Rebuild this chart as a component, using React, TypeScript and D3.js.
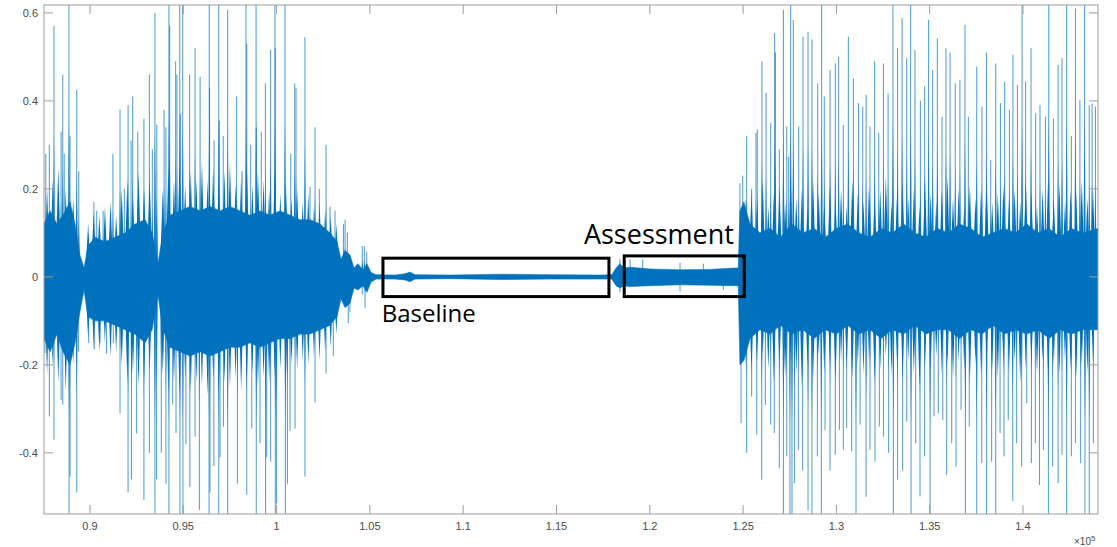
import * as d3 from 'd3'

// axis ranges are in units of 1e5 samples
const X_DOMAIN: [number, number] = [0.87535, 1.44019]
const Y_DOMAIN: [number, number] = [-0.539, 0.618]
const X_TICKS = [0.9, 0.95, 1, 1.05, 1.1, 1.15, 1.2, 1.25, 1.3, 1.35, 1.4]
const X_TICK_LABELS = ['0.9', '0.95', '1', '1.05', '1.1', '1.15', '1.2', '1.25', '1.3', '1.35', '1.4']
const Y_TICKS = [-0.4, -0.2, 0, 0.2, 0.4, 0.6]
const Y_TICK_LABELS = ['-0.4', '-0.2', '0', '0.2', '0.4', '0.6']

// dense part of the signal (envelope)
const coreX = [
  0.8753, 0.8786, 0.8823, 0.8855, 0.8893, 0.892, 0.8946, 0.8968, 0.8989, 0.9027, 0.908, 0.9134,
  0.9188, 0.9241, 0.9295, 0.9333, 0.9364, 0.9391, 0.9429, 0.9482, 0.9536, 0.959, 0.9643, 0.9697,
  0.975, 0.9804, 0.9857, 0.9911, 0.9965, 1.0018, 1.0072, 1.0126, 1.0179, 1.0233, 1.0286, 1.0324,
  1.0345, 1.0367, 1.0393, 1.0415, 1.0436, 1.0463, 1.0484, 1.0506, 1.0533, 1.0635, 1.0688, 1.0715,
  1.0742, 1.0929, 1.1197, 1.1465, 1.1733, 1.1797, 1.1819, 1.184, 1.1861, 1.1893, 1.2001, 1.2161,
  1.2322, 1.2456, 1.2474, 1.2483, 1.2504, 1.2537, 1.259, 1.2644, 1.27, 1.276, 1.282, 1.288, 1.294,
  1.3, 1.306, 1.312, 1.318, 1.324, 1.33, 1.336, 1.342, 1.348, 1.354, 1.36, 1.366, 1.372, 1.378,
  1.384, 1.39, 1.396, 1.402, 1.408, 1.414, 1.42, 1.426, 1.432, 1.4402,
]
const coreHi = [
  0.12, 0.15, 0.12, 0.14, 0.17, 0.12, 0.05, 0.02, 0.07, 0.09, 0.08, 0.09, 0.1, 0.12, 0.13, 0.1,
  0.03, 0.1, 0.14, 0.15, 0.16, 0.15, 0.16, 0.15, 0.16, 0.15, 0.14, 0.15, 0.14, 0.15, 0.14, 0.13,
  0.13, 0.12, 0.1, 0.08, 0.04, 0.06, 0.05, 0.02, 0.03, 0.015, 0.03, 0.01, 0.005, 0.004, 0.007,
  0.011, 0.005, 0.004, 0.006, 0.005, 0.004, 0.005, 0.02, 0.03, 0.02, 0.022, 0.018, 0.016, 0.017,
  0.02, 0.02, 0.15, 0.17, 0.12, 0.1, 0.11, 0.09, 0.12, 0.1, 0.11, 0.09, 0.11, 0.12, 0.1, 0.09,
  0.11, 0.1, 0.12, 0.1, 0.09, 0.11, 0.1, 0.12, 0.11, 0.09, 0.1, 0.11, 0.1, 0.12, 0.1, 0.11, 0.09,
  0.11, 0.1, 0.11,
]
const coreLo = [
  -0.14, -0.17, -0.13, -0.17, -0.2, -0.15, -0.08, -0.03, -0.09, -0.1, -0.1, -0.11, -0.12, -0.13,
  -0.15, -0.12, -0.04, -0.12, -0.16, -0.17, -0.18, -0.17, -0.18, -0.17, -0.16, -0.16, -0.15, -0.16,
  -0.15, -0.14, -0.14, -0.13, -0.13, -0.12, -0.11, -0.09, -0.05, -0.07, -0.06, -0.025, -0.03,
  -0.02, -0.035, -0.012, -0.005, -0.005, -0.007, -0.011, -0.005, -0.004, -0.006, -0.005, -0.005,
  -0.005, -0.02, -0.025, -0.02, -0.022, -0.02, -0.018, -0.019, -0.02, -0.02, -0.2, -0.19, -0.14,
  -0.12, -0.13, -0.11, -0.13, -0.12, -0.14, -0.12, -0.13, -0.11, -0.13, -0.12, -0.14, -0.12, -0.13,
  -0.11, -0.13, -0.12, -0.12, -0.14, -0.12, -0.13, -0.11, -0.13, -0.12, -0.13, -0.12, -0.14, -0.12,
  -0.13, -0.12, -0.12,
]

// medium bursts inside the loud parts [x, high, low]
const midLeft: [number, number, number][] = [
  [0.877, 0.2, -0.22], [0.88, 0.22, -0.2], [0.883, 0.25, -0.24], [0.887, 0.2, -0.26],
  [0.891, 0.18, -0.2], [0.899, 0.12, -0.14], [0.902, 0.15, -0.16], [0.905, 0.14, -0.17],
  [0.908, 0.16, -0.15], [0.911, 0.17, -0.18], [0.914, 0.14, -0.17], [0.917, 0.2, -0.2],
  [0.92, 0.22, -0.24], [0.923, 0.18, -0.22], [0.926, 0.24, -0.25], [0.929, 0.2, -0.23],
  [0.932, 0.22, -0.21], [0.939, 0.2, -0.22], [0.942, 0.25, -0.26], [0.945, 0.22, -0.24],
  [0.948, 0.26, -0.27], [0.951, 0.21, -0.23], [0.954, 0.24, -0.26], [0.957, 0.22, -0.24],
  [0.96, 0.26, -0.25], [0.963, 0.22, -0.27], [0.966, 0.25, -0.23], [0.969, 0.21, -0.26],
  [0.972, 0.24, -0.24], [0.975, 0.26, -0.25], [0.978, 0.21, -0.23], [0.981, 0.23, -0.26],
  [0.984, 0.26, -0.24], [0.987, 0.21, -0.22], [0.99, 0.24, -0.25], [0.993, 0.22, -0.23],
  [0.996, 0.2, -0.24], [0.999, 0.24, -0.22], [1.002, 0.19, -0.21], [1.005, 0.21, -0.23],
  [1.008, 0.18, -0.2], [1.011, 0.2, -0.21], [1.014, 0.17, -0.19], [1.017, 0.19, -0.2],
  [1.02, 0.16, -0.18], [1.023, 0.17, -0.19], [1.026, 0.15, -0.17], [1.029, 0.14, -0.16],
  [1.032, 0.12, -0.13],
]
const midRight: [number, number, number][] = [
  [1.2515, 0.18, -0.2], [1.2545, 0.2, -0.22], [1.2575, 0.17, -0.19], [1.2605, 0.22, -0.18],
  [1.2635, 0.16, -0.21], [1.2665, 0.19, -0.24], [1.2695, 0.21, -0.2], [1.2725, 0.17, -0.23],
  [1.2755, 0.23, -0.19], [1.2785, 0.18, -0.22], [1.2815, 0.2, -0.25], [1.2845, 0.16, -0.2],
  [1.2875, 0.22, -0.23], [1.2905, 0.19, -0.18], [1.2935, 0.17, -0.22], [1.2965, 0.21, -0.2],
  [1.2995, 0.18, -0.24], [1.3025, 0.2, -0.19], [1.3055, 0.16, -0.21], [1.3085, 0.22, -0.23],
  [1.3115, 0.19, -0.2], [1.3145, 0.17, -0.22], [1.3175, 0.21, -0.19], [1.3205, 0.18, -0.24],
  [1.3235, 0.2, -0.21], [1.3265, 0.23, -0.18], [1.3295, 0.17, -0.22], [1.3325, 0.19, -0.2],
  [1.3355, 0.21, -0.23], [1.3385, 0.18, -0.19], [1.3415, 0.2, -0.22], [1.3445, 0.16, -0.25],
  [1.3475, 0.22, -0.2], [1.3505, 0.19, -0.21], [1.3535, 0.17, -0.18], [1.3565, 0.2, -0.22],
  [1.3595, 0.23, -0.2], [1.3625, 0.18, -0.23], [1.3655, 0.2, -0.19], [1.3685, 0.16, -0.21],
  [1.3715, 0.21, -0.24], [1.3745, 0.18, -0.2], [1.3775, 0.2, -0.22], [1.3805, 0.22, -0.19],
  [1.3835, 0.17, -0.21], [1.3865, 0.19, -0.23], [1.3895, 0.21, -0.2], [1.3925, 0.18, -0.22],
  [1.3955, 0.2, -0.19], [1.3985, 0.17, -0.24], [1.4015, 0.22, -0.21], [1.4045, 0.19, -0.2],
  [1.4075, 0.16, -0.22], [1.4105, 0.2, -0.19], [1.4135, 0.23, -0.23], [1.4165, 0.18, -0.2],
  [1.4195, 0.21, -0.22], [1.4225, 0.17, -0.19], [1.4255, 0.2, -0.21], [1.4285, 0.19, -0.23],
  [1.4315, 0.22, -0.2], [1.4345, 0.18, -0.22], [1.4375, 0.2, -0.19],
]

// isolated peaks [x, value]
const peaksUp: [number, number][] = [
  [0.8763, 0.28], [0.8782, 0.3], [0.8807, 0.57], [0.8845, 0.33], [0.8854, 0.46], [0.8862, 0.28],
  [0.8887, 0.65], [0.8893, 0.32], [0.8929, 0.425], [0.894, 0.24], [0.9021, 0.17], [0.9036, 0.15],
  [0.907, 0.15], [0.9123, 0.28], [0.9161, 0.38], [0.9184, 0.2], [0.9204, 0.39], [0.922, 0.31],
  [0.9229, 0.41], [0.9256, 0.33], [0.9289, 0.36], [0.9318, 0.46], [0.9334, 0.29], [0.9348, 0.6],
  [0.9358, 0.346], [0.9397, 0.38], [0.9407, 0.34], [0.9423, 0.65], [0.9427, 0.57], [0.9459, 0.49],
  [0.9466, 0.46], [0.9481, 0.65], [0.9484, 0.37], [0.9497, 0.65], [0.9534, 0.46], [0.9563, 0.52],
  [0.959, 0.455], [0.9639, 0.65], [0.9641, 0.43], [0.9665, 0.31], [0.969, 0.65], [0.9693, 0.355],
  [0.9714, 0.32], [0.9738, 0.607], [0.9786, 0.41], [0.9815, 0.24], [0.9836, 0.65], [0.984, 0.53],
  [0.9861, 0.3], [0.989, 0.65], [0.9891, 0.34], [0.9918, 0.33], [0.994, 0.44], [0.9968, 0.516],
  [0.9991, 0.65], [0.9993, 0.52], [1.0045, 0.65], [1.0076, 0.28], [1.0097, 0.44], [1.0104, 0.43],
  [1.0152, 0.545], [1.0179, 0.205], [1.0206, 0.34], [1.0229, 0.2], [1.0265, 0.3], [1.0286, 0.16],
  [1.0313, 0.15], [1.0358, 0.12], [1.0367, 0.13], [1.0379, 0.1], [1.0459, 0.07], [1.047, 0.07],
  [1.0483, 0.057], [1.184, 0.04], [1.1894, 0.04], [1.1962, 0.04], [1.2162, 0.032], [1.2287, 0.03],
  [1.2483, 0.213], [1.2498, 0.23], [1.2519, 0.32], [1.2546, 0.2], [1.2569, 0.327], [1.2576, 0.335],
  [1.2601, 0.49], [1.2623, 0.418], [1.2648, 0.35], [1.2669, 0.554], [1.2673, 0.51], [1.2694, 0.29],
  [1.2716, 0.607], [1.2734, 0.342], [1.2744, 0.273], [1.2755, 0.65], [1.2769, 0.584], [1.2798, 0.342],
  [1.2821, 0.546], [1.2848, 0.557], [1.2869, 0.54], [1.29, 0.44], [1.2921, 0.65], [1.2935, 0.41],
  [1.2966, 0.47], [1.2994, 0.485], [1.3012, 0.5], [1.3037, 0.345], [1.3064, 0.546], [1.3091, 0.451],
  [1.3118, 0.395], [1.3141, 0.387], [1.3159, 0.414], [1.318, 0.342], [1.3205, 0.49], [1.3227, 0.327],
  [1.3252, 0.485], [1.3277, 0.417], [1.3303, 0.65], [1.3328, 0.52], [1.3352, 0.588], [1.3377, 0.497],
  [1.3398, 0.65], [1.3421, 0.516], [1.345, 0.4], [1.3473, 0.433], [1.3494, 0.584], [1.3516, 0.47],
  [1.3541, 0.542], [1.3566, 0.364], [1.3587, 0.52], [1.3609, 0.51], [1.3637, 0.44], [1.3662, 0.448],
  [1.3689, 0.573], [1.3707, 0.364], [1.3752, 0.478], [1.378, 0.387], [1.3804, 0.51], [1.3827, 0.266],
  [1.3854, 0.485], [1.3879, 0.395], [1.3902, 0.443], [1.3927, 0.38], [1.3946, 0.505], [1.397, 0.436],
  [1.3995, 0.65], [1.4014, 0.444], [1.4043, 0.52], [1.4068, 0.372], [1.4091, 0.39], [1.412, 0.364],
  [1.4138, 0.65], [1.4163, 0.36], [1.4188, 0.482], [1.4209, 0.497], [1.4234, 0.65], [1.4259, 0.32],
  [1.4281, 0.61], [1.4305, 0.402], [1.433, 0.65], [1.4355, 0.39], [1.437, 0.394], [1.4388, 0.387],
]
const peaksDown: [number, number][] = [
  [0.8759, -0.173], [0.8782, -0.317], [0.8807, -0.37], [0.8845, -0.28], [0.8854, -0.29],
  [0.8888, -0.6], [0.8893, -0.454], [0.8929, -0.49], [0.8939, -0.17], [0.8993, -0.15],
  [0.9023, -0.165], [0.9054, -0.15], [0.9089, -0.175], [0.9125, -0.15], [0.9161, -0.31],
  [0.9204, -0.49], [0.9222, -0.46], [0.925, -0.356], [0.9289, -0.507], [0.9318, -0.4],
  [0.9348, -0.6], [0.9357, -0.46], [0.9382, -0.4], [0.9407, -0.47], [0.9423, -0.6],
  [0.9443, -0.29], [0.9461, -0.355], [0.9482, -0.6], [0.9498, -0.6], [0.9514, -0.38],
  [0.9535, -0.477], [0.9563, -0.363], [0.9586, -0.53], [0.9638, -0.6], [0.9643, -0.49],
  [0.9664, -0.43], [0.969, -0.6], [0.9697, -0.41], [0.9715, -0.34], [0.9738, -0.6],
  [0.979, -0.47], [0.984, -0.495], [0.9867, -0.345], [0.9891, -0.6], [0.9911, -0.378],
  [0.9941, -0.6], [0.9947, -0.41], [0.9968, -0.42], [0.9993, -0.6], [1.0, -0.515],
  [1.0047, -0.6], [1.0058, -0.47], [1.0072, -0.35], [1.0099, -0.345], [1.0152, -0.454],
  [1.0206, -0.285], [1.0265, -0.22], [1.0304, -0.18], [1.0384, -0.105], [1.0393, -0.08],
  [1.0459, -0.04], [1.0474, -0.07], [1.184, -0.035], [1.2162, -0.033], [1.2394, -0.03],
  [1.2489, -0.332], [1.2519, -0.4], [1.2546, -0.272], [1.2573, -0.359], [1.26, -0.461],
  [1.2619, -0.291], [1.2648, -0.336], [1.2667, -0.355], [1.2694, -0.435], [1.2716, -0.6],
  [1.2734, -0.408], [1.2751, -0.6], [1.2762, -0.6], [1.2775, -0.469], [1.2796, -0.393],
  [1.2819, -0.44], [1.2848, -0.53], [1.2869, -0.6], [1.2898, -0.408], [1.2919, -0.6],
  [1.2939, -0.348], [1.2966, -0.44], [1.2994, -0.404], [1.3016, -0.348], [1.3037, -0.393],
  [1.3055, -0.344], [1.3082, -0.397], [1.3105, -0.6], [1.3127, -0.336], [1.3159, -0.5],
  [1.318, -0.393], [1.3207, -0.42], [1.323, -0.34], [1.3252, -0.363], [1.328, -0.4],
  [1.3305, -0.6], [1.3328, -0.461], [1.3355, -0.44], [1.3377, -0.329], [1.34, -0.6],
  [1.3425, -0.378], [1.3448, -0.499], [1.3473, -0.408], [1.3502, -0.6], [1.3523, -0.317],
  [1.3546, -0.31], [1.357, -0.325], [1.3591, -0.45], [1.3618, -0.378], [1.3641, -0.431],
  [1.3668, -0.302], [1.3691, -0.6], [1.3712, -0.34], [1.3752, -0.6], [1.3779, -0.423],
  [1.3805, -0.6], [1.3832, -0.42], [1.3854, -0.6], [1.3877, -0.355], [1.3898, -0.408],
  [1.3921, -0.325], [1.3945, -0.51], [1.3966, -0.378], [1.3993, -0.431], [1.402, -0.287],
  [1.4045, -0.423], [1.4066, -0.378], [1.4088, -0.473], [1.4109, -0.393], [1.4136, -0.6],
  [1.4159, -0.431], [1.4188, -0.469], [1.4209, -0.404], [1.4234, -0.6], [1.4259, -0.408],
  [1.4281, -0.378], [1.4309, -0.423], [1.4332, -0.6], [1.4355, -0.6], [1.4377, -0.378],
]

// annotation boxes [x0, x1, y0, y1] in data units
const BASELINE_BOX = [1.057, 1.1781, -0.0448, 0.0425]
const ASSESSMENT_BOX = [1.1863, 1.2506, -0.0448, 0.0477]
const BASELINE_LABEL: [number, number] = [1.0563, -0.1016]
const ASSESSMENT_LABEL: [number, number] = [1.1647, 0.075]

const W = 1117
const H = 547
const M = { top: 5, right: 19, bottom: 33, left: 44 }
const BLUE = '#0072BD'
const AXIS = '#9d9d9d'
const TEXT = '#4a4a4a'

export default function App() {
  const x = d3.scaleLinear().domain(X_DOMAIN).range([M.left, W - M.right])
  const y = d3.scaleLinear().domain(Y_DOMAIN).range([H - M.bottom, M.top])
  const [x0, x1] = x.range()
  const [yb, yt] = y.range()

  const core = coreX.map((v, i) => ({ x: v, hi: coreHi[i], lo: coreLo[i] }))
  const band = d3
    .area<{ x: number; hi: number; lo: number }>()
    .x((d) => x(d.x))
    .y0((d) => y(d.lo))
    .y1((d) => y(d.hi))(core)

  const mids = [...midLeft, ...midRight]
  // a burst drawn as a narrow diamond: wide at the zero line, sharp at its tips
  const burst = (px: number, hi: number, lo: number, half: number) => {
    const cx = x(px)
    return `M${cx - half},${y(0)}L${cx},${y(hi)}L${cx + half},${y(0)}L${cx},${y(lo)}Z`
  }
  const spike = (px: number, v: number, half: number) => {
    const cx = x(px)
    return `M${cx - half},${y(0)}L${cx},${y(v)}L${cx + half},${y(0)}Z`
  }

  const box = (b: number[]) => ({
    x: x(b[0]),
    y: y(b[3]),
    width: x(b[1]) - x(b[0]),
    height: y(b[2]) - y(b[3]),
  })
  const bb = box(BASELINE_BOX)
  const ab = box(ASSESSMENT_BOX)
  const tick = 9

  return (
    <svg
      width={W}
      height={H}
      style={{ position: 'absolute', left: 0, top: 0, background: '#fff' }}
      fontFamily="'Liberation Sans', Arial, sans-serif"
    >
      <defs>
        <clipPath id="plot">
          <rect x={x0} y={yt} width={x1 - x0} height={yb - yt} />
        </clipPath>
      </defs>

      <g clipPath="url(#plot)">
        {peaksUp.map(([px, v], i) => (
          <line key={'u' + i} x1={x(px)} x2={x(px)} y1={y(0)} y2={y(v)} stroke={BLUE} strokeWidth={1} opacity={0.7} />
        ))}
        {peaksDown.map(([px, v], i) => (
          <line key={'d' + i} x1={x(px)} x2={x(px)} y1={y(0)} y2={y(v)} stroke={BLUE} strokeWidth={1} opacity={0.7} />
        ))}
        {[...peaksUp, ...peaksDown].map(([px, v], i) => (
          <path key={'s' + i} d={spike(px, v * 0.55, 1.6)} fill={BLUE} opacity={0.8} />
        ))}
        {mids.map(([px, hi, lo], i) => (
          <path key={'m' + i} d={burst(px, hi, lo, 3)} fill={BLUE} />
        ))}
        <path d={band ?? ''} fill={BLUE} stroke={BLUE} strokeWidth={0.6} />
      </g>

      {/* axes box */}
      <rect x={x0} y={yt} width={x1 - x0} height={yb - yt} fill="none" stroke={AXIS} strokeWidth={1} />
      {X_TICKS.map((t, i) => (
        <g key={'x' + i}>
          <line x1={x(t)} x2={x(t)} y1={yb} y2={yb - tick} stroke={AXIS} />
          <line x1={x(t)} x2={x(t)} y1={yt} y2={yt + tick} stroke={AXIS} />
          <text x={x(t)} y={yb + 16} textAnchor="middle" fontSize={11} fill={TEXT}>
            {X_TICK_LABELS[i]}
          </text>
        </g>
      ))}
      {Y_TICKS.map((t, i) => (
        <g key={'y' + i}>
          <line x1={x0} x2={x0 + tick} y1={y(t)} y2={y(t)} stroke={AXIS} />
          <line x1={x1} x2={x1 - tick} y1={y(t)} y2={y(t)} stroke={AXIS} />
          <text x={x0 - 6} y={y(t)} dy="0.35em" textAnchor="end" fontSize={11} fill={TEXT}>
            {Y_TICK_LABELS[i]}
          </text>
        </g>
      ))}
      <text x={x1 - 24} y={H - 2} fontSize={10} fill={TEXT}>
        ×10
        <tspan dy={-4} fontSize={8}>
          5
        </tspan>
      </text>

      {/* annotations */}
      <rect {...bb} fill="none" stroke="#000" strokeWidth={3} />
      <rect {...ab} fill="none" stroke="#000" strokeWidth={3} />
      <text
        x={x(ASSESSMENT_LABEL[0])}
        y={y(ASSESSMENT_LABEL[1])}
        fontFamily="'Open Sans', sans-serif"
        fontSize={27}
        fill="#000"
      >
        Assessment
      </text>
      <text
        x={x(BASELINE_LABEL[0])}
        y={y(BASELINE_LABEL[1])}
        fontFamily="'Open Sans', sans-serif"
        fontSize={24}
        fill="#000"
      >
        Baseline
      </text>
    </svg>
  )
}
